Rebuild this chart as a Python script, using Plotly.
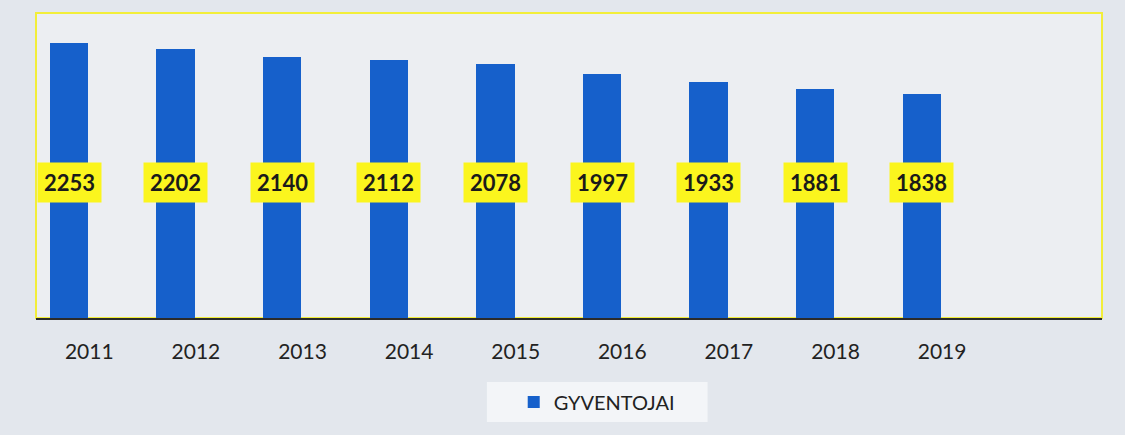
import plotly.graph_objects as go

years = ["2011", "2012", "2013", "2014", "2015", "2016", "2017", "2018", "2019"]
residents = [2253, 2202, 2140, 2112, 2078, 1997, 1933, 1881, 1838]
series_name = "GYVENTOJAI"

pos = list(range(len(years)))
FONT = "Lato, Open Sans, sans-serif"

fig = go.Figure()
fig.add_trace(go.Bar(
    x=pos, y=residents, name=series_name,
    marker=dict(color="#1660cb", line=dict(width=0)),
    width=0.36, offset=-0.37,
    showlegend=True,
))

for p, v in zip(pos, residents):
    fig.add_annotation(
        x=p - 0.19, y=1110, xref="x", yref="y",
        text="<b>%d</b>" % v, showarrow=False,
        font=dict(family=FONT, size=22, color="#1a1a1a"),
        bgcolor="#fbf51e", borderpad=6,
    )

# plot frame
fig.add_shape(type="rect", xref="paper", yref="paper", x0=0, x1=1, y0=0, y1=1,
              line=dict(color="#f2ee3a", width=2), fillcolor="rgba(0,0,0,0)", layer="below")
# legend backdrop
fig.add_shape(type="rect", xref="paper", yref="paper", x0=0.423, x1=0.630, y0=-0.341, y1=-0.21,
              line=dict(width=0), fillcolor="#f3f5f8", layer="below")

fig.update_layout(
    width=1125, height=435,
    margin=dict(l=36, r=23, t=13, b=117),
    paper_bgcolor="#e3e7ed",
    plot_bgcolor="#eceef2",
    bargap=0,
    xaxis=dict(range=[-0.5, 9.5], tickvals=pos, ticktext=years,
               showgrid=False, zeroline=False, showline=True,
               linecolor="#2b2b2b", linewidth=2, ticks="",
               ticklabelstandoff=14,
               tickfont=dict(family=FONT, size=21, color="#222"),
               fixedrange=True),
    yaxis=dict(range=[0, 2500], showgrid=False, zeroline=False,
               showticklabels=False, showline=False, fixedrange=True),
    legend=dict(orientation="h", x=0.526, xanchor="center", y=-0.275, yanchor="middle",
                bgcolor="rgba(0,0,0,0)", borderwidth=0,
                font=dict(family=FONT, size=20, color="#222")),
    hovermode=False,
)

fig.write_html("out.html", config={"displayModeBar": False},
               post_script="document.body.style.margin='0';")
